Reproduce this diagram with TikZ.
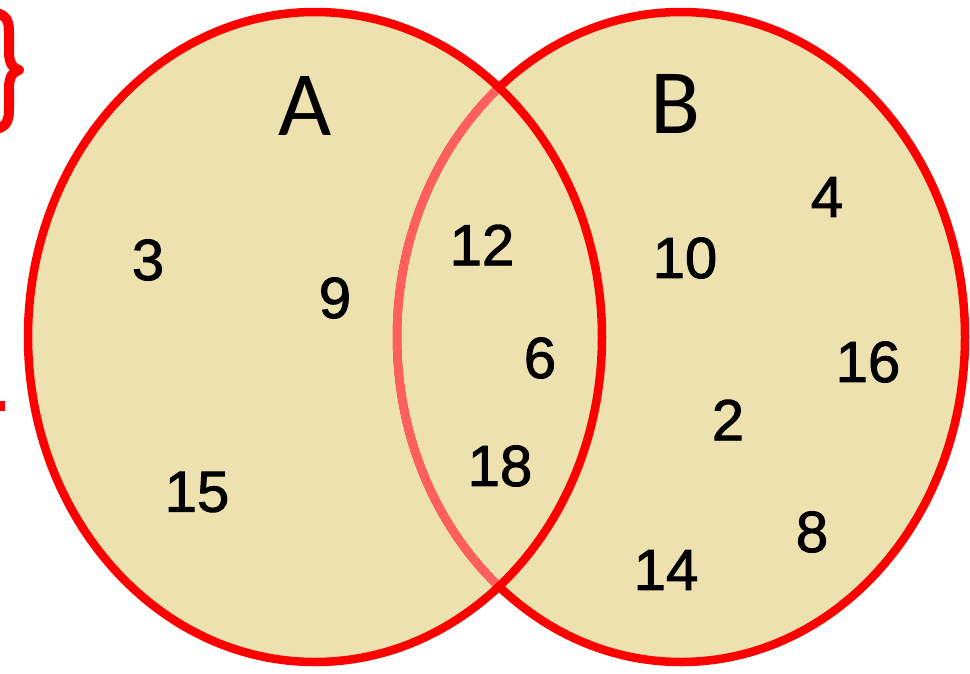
\documentclass[tikz,border=0pt]{standalone}
\usepackage{fontspec}
\setmainfont{Liberation Sans}
\newfontfamily\numfont{Liberation Sans}[BoldFont={Liberation Sans},BoldFeatures={FakeBold=1.6}]
\newfontfamily\labfont{Carlito}
\definecolor{vbeige}{RGB}{236,225,175}
\definecolor{vred}{RGB}{255,0,0}
\definecolor{vpink}{RGB}{255,95,95}
\begin{document}
\begin{tikzpicture}[x=1pt,y=-1pt,
  num/.style={font=\numfont\bfseries\fontsize{58}{58}\selectfont, text=black, inner sep=0pt},
  setlab/.style={font=\labfont\fontsize{92}{92}\selectfont, text=black, inner sep=0pt},
  ring/.style={draw=vred, line width=8.5pt}]
\useasboundingbox (0,0) rectangle (970,673);
\clip (0,0) rectangle (970,673);
% fills
\fill[vbeige] (315,337) ellipse [x radius=287, y radius=325];
\fill[vbeige] (681,337) ellipse [x radius=284, y radius=325];
% B outline
\draw[ring] (681,337) ellipse [x radius=284, y radius=325];
% lighter part of B inside A
\begin{scope}
  \clip (315,337) ellipse [x radius=283, y radius=321];
  \draw[draw=vpink, line width=8.5pt] (681,337) ellipse [x radius=284, y radius=325];
\end{scope}
% A outline
\draw[ring] (315,337) ellipse [x radius=287, y radius=325];
% set labels
\node[setlab] (la) at (305,106) {A};
\node[setlab] (lb) at (676,104) {B};
% elements
\node[num] (n3)  at (148,260) {3};
\node[num] (n9)  at (335,298) {9};
\node[num] (n15) at (197,492) {15};
\node[num] (n12) at (482,245) {12};
\node[num] (n6)  at (540,358) {6};
\node[num] (n18) at (500,466) {18};
\node[num] (n10) at (685,258) {10};
\node[num] (n4)  at (827,197) {4};
\node[num] (n16) at (868,362) {16};
\node[num] (n2)  at (728,420) {2};
\node[num] (n8)  at (812,532) {8};
\node[num] (n14) at (666,570) {14};
% cropped red brace at left edge
\draw[vred, line width=10pt, line cap=round, line join=round]
  (-4,13) .. controls (7,15) and (9,22) .. (9,32) -- (9,52)
  .. controls (9,63) and (13,69) .. (19,70)
  .. controls (13,71) and (9,77) .. (9,88) -- (9,110)
  .. controls (9,121) and (6,127) .. (-4,129);
\fill[vred] (0,401) rectangle (5,411);
\end{tikzpicture}
\end{document}
